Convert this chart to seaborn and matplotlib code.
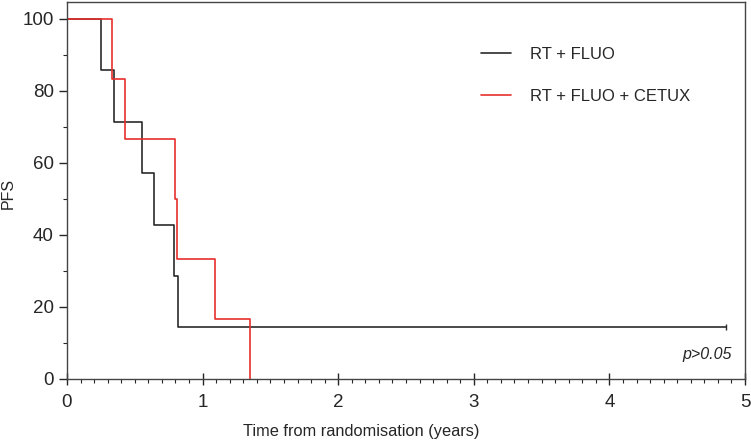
import pandas as pd
import matplotlib
matplotlib.use('Agg')
import matplotlib.pyplot as plt
from matplotlib.ticker import MultipleLocator
import seaborn as sns

# step points (time in years, PFS %)
fluo_time = [0, 0.25, 0.35, 0.55, 0.64, 0.79, 0.82, 4.86]
fluo_pfs = [100, 85.7, 71.4, 57.1, 42.9, 28.6, 14.3, 14.3]

cetux_time = [0, 0.33, 0.43, 0.80, 0.81, 1.09, 1.35]
cetux_pfs = [100, 83.3, 66.7, 50.0, 33.3, 16.7, 0]

labels = ['RT + FLUO', 'RT + FLUO + CETUX']

df = pd.concat([
    pd.DataFrame({'time': fluo_time, 'pfs': fluo_pfs, 'arm': labels[0]}),
    pd.DataFrame({'time': cetux_time, 'pfs': cetux_pfs, 'arm': labels[1]}),
], ignore_index=True)

sns.set_style('ticks')
plt.rcParams['font.family'] = ['Liberation Sans', 'DejaVu Sans']

fig = plt.figure(figsize=(7.51, 4.43), dpi=100)
ax = fig.add_axes([0.0892, 0.1445, 0.9028, 0.851])

sns.lineplot(data=df, x='time', y='pfs', hue='arm', palette=['#2b2b2b', '#e8302c'],
             drawstyle='steps-post', linewidth=1.2, estimator=None, sort=False, ax=ax)
# censor mark at end of black curve
ax.plot([fluo_time[-1]], [fluo_pfs[-1]], marker='|', color='#2b2b2b', markersize=4, mew=1)

ax.set_xlim(0, 5)
ax.set_ylim(0, 104.7)
ax.set_xticks([0, 1, 2, 3, 4, 5])
ax.set_yticks([0, 20, 40, 60, 80, 100])
ax.xaxis.set_minor_locator(MultipleLocator(0.1))
ax.yaxis.set_minor_locator(MultipleLocator(10))
ax.tick_params(axis='x', which='major', direction='inout', length=8, width=1, labelsize=13.5, pad=6.5)
ax.tick_params(axis='x', which='minor', direction='out', length=3, width=0.8)
ax.tick_params(axis='y', which='major', direction='out', length=6, width=1, labelsize=13.5)
ax.tick_params(axis='y', which='minor', direction='out', length=3, width=0.8)
for s in ax.spines.values():
    s.set_color('#444444')
    s.set_linewidth(1)

ax.set_xlabel('Time from randomisation (years)', fontsize=11.8, va='center')
ax.xaxis.set_label_coords(0.434, -0.138)
ax.set_ylabel('PFS', fontsize=11.5, va='center')
ax.yaxis.set_label_coords(-0.086, 0.492)

ax.text(0.98, 0.064, 'p>0.05', transform=ax.transAxes, ha='right', va='center',
        fontsize=11.5, style='italic')

leg = ax.legend(loc='upper left', bbox_to_anchor=(0.589, 0.92), frameon=False, fontsize=12,
                handlelength=1.8, handletextpad=1.1, labelspacing=1.6)

fig.savefig('out.png', dpi=100)
